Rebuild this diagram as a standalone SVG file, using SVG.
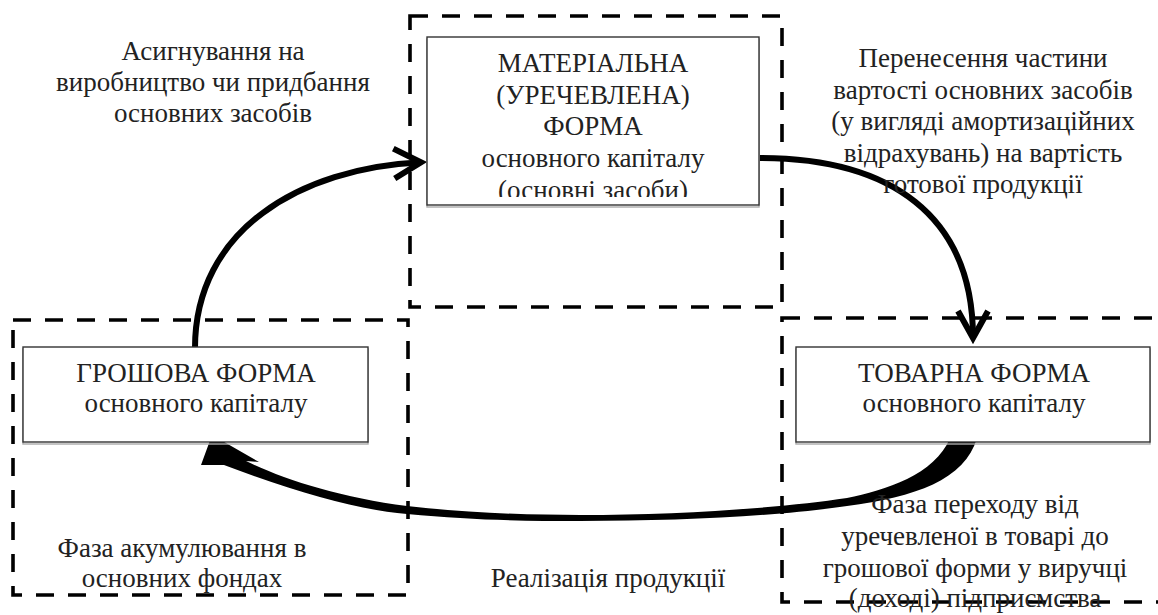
<svg xmlns="http://www.w3.org/2000/svg" width="1158" height="615" viewBox="0 0 1158 615">
<style>
text{font-family:"Liberation Serif","DejaVu Serif","Noto Serif",serif;font-size:27px;fill:#222;text-anchor:middle}
.phase{fill:none;stroke:#000;stroke-width:3.6;stroke-dasharray:18 14}
.box{fill:#fff;stroke:#333;stroke-width:1.4}
.shadow{fill:none;stroke:#aaa;stroke-width:1.4}
.arc{fill:none;stroke:#000;stroke-width:6}
</style>
<defs>
<marker id="chev" markerUnits="userSpaceOnUse" viewBox="-32 -20 44 40" refX="0" refY="0" markerWidth="44" markerHeight="40" orient="auto" overflow="visible">
<path d="M-27,-15 L0,0 L-27,15" fill="none" stroke="#000" stroke-width="6" stroke-linejoin="miter" stroke-miterlimit="10"/>
</marker>
<clipPath id="clipMat"><rect x="427" y="37" width="332" height="160"/></clipPath>
</defs>
<g id="phases">
<rect class="phase" x="410" y="16" width="372" height="291"/>
<rect class="phase" x="13" y="320" width="395" height="275"/>
<rect class="phase" x="782" y="318" width="390" height="284"/>
</g>
<g id="connectors">
<path id="c1" class="arc" d="M195,348 C195,230 300,168 421,162.3" marker-end="url(#chev)"/>
<path id="c2" class="arc" d="M760,158 C890,158 973,215 973,338" marker-end="url(#chev)"/>
<path id="c3" fill="#000" d="M246,461 C280,478 340,498 407,506 C470,513 530,515 580,515 C680,515 780,508 847,498 C885,490 935,475 950,438 L977,438 C965,480 915,497 847,506 C780,516 680,521 580,521 C520,521 470,520 407,514 C360,510 300,494 224,465 L201,465 L212,435 L259,462 Z"/>
</g>
<g id="node-material">
<rect class="shadow" x="427" y="39" width="332" height="168"/>
<rect class="box" x="427" y="37" width="332" height="168"/>
<g clip-path="url(#clipMat)">
<text x="593" y="72">МАТЕРІАЛЬНА</text>
<text x="593" y="103.5">(УРЕЧЕВЛЕНА)</text>
<text x="593" y="135">ФОРМА</text>
<text x="593" y="166.5">основного капіталу</text>
<text x="593" y="198.5">(основні засоби)</text>
</g>
</g>
<g id="node-money">
<rect class="shadow" x="23" y="349" width="345" height="95"/>
<rect class="box" x="23" y="347" width="345" height="95"/>
<text x="196" y="382">ГРОШОВА ФОРМА</text>
<text x="196" y="412">основного капіталу</text>
</g>
<g id="node-goods">
<rect class="shadow" x="796" y="349" width="354" height="95"/>
<rect class="box" x="796" y="347" width="354" height="95"/>
<text x="974" y="382">ТОВАРНА ФОРМА</text>
<text x="974" y="412">основного капіталу</text>
</g>
<g id="labels">
<text x="213" y="60">Асигнування на</text>
<text x="213" y="91">виробництво чи придбання</text>
<text x="213" y="122">основних засобів</text>
<text x="983" y="67">Перенесення частини</text>
<text x="983" y="98.5">вартості основних засобів</text>
<text x="983" y="130">(у вигляді амортизаційних</text>
<text x="983" y="161.5">відрахувань) на вартість</text>
<text x="983" y="193">готової продукції</text>
<text x="182" y="557">Фаза акумулювання в</text>
<text x="182" y="587">основних фондах</text>
<text x="608" y="587">Реалізація продукції</text>
<text x="975" y="513">Фаза переходу від</text>
<text x="975" y="545">уречевленої в товарі до</text>
<text x="975" y="577">грошової форми у виручці</text>
<text x="975" y="607">(доході) підприємства</text>
</g>
</svg>
